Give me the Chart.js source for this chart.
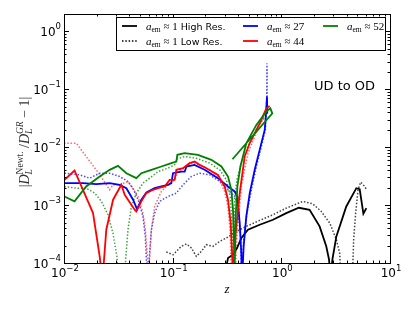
<!DOCTYPE html>
<html>
<head>
<meta charset="utf-8">
<script src="https://cdn.jsdelivr.net/npm/chart.js@4.4.1/dist/chart.umd.min.js"></script>
<style>
  html, body { margin: 0; padding: 0; background: #fff; }
</style>
</head>
<body>
<canvas id="chart" width="415" height="312"></canvas>
<script>
// Axis ticks (decades)
const xTicks = [0.01, 0.1, 1, 10];
const yTicks = [1e-4, 1e-3, 1e-2, 1e-1, 1];

// a_em ~ 1, high resolution (black solid)
const hiResZ = [0.295, 0.323, 0.359, 0.391, 0.429, 0.493, 0.632, 0.838, 1.11, 1.45, 1.82, 2.25, 2.59, 2.75, 2.82, 2.95, 3.21, 3.96, 4.90, 5.26, 5.69, 6.06];
const hiResD = [5e-5, 1.22e-4, 1.39e-4, 1.81e-4, 2.70e-4, 3.76e-4, 4.58e-4, 5.58e-4, 7.28e-4, 9.0e-4, 8.3e-4, 4.29e-4, 1.94e-4, 1.14e-4, 5e-5, 1.14e-4, 2.88e-4, 9.48e-4, 1.96e-3, 1.89e-3, 7.09e-4, 8.87e-4];

// a_em ~ 1, low resolution (black dotted)
const loResZ = [0.0874, 0.101, 0.120, 0.134, 0.149, 0.165, 0.184, 0.204, 0.235, 0.271, 0.323, 0.386, 0.476, 0.632, 0.838, 1.11, 1.58, 1.95, 2.33, 2.79, 3.21, 3.44, 3.55, 4.50, 4.63, 4.83, 5.08, 5.37, 5.85, 6.14];
const loResD = [1.55e-4, 1.39e-4, 1.94e-4, 2.13e-4, 1.81e-4, 1.30e-4, 1.59e-4, 2.07e-4, 1.94e-4, 2.36e-4, 2.81e-4, 3.52e-4, 4.29e-4, 5.44e-4, 6.81e-4, 8.87e-4, 1.16e-3, 1.05e-3, 7.78e-4, 4.9e-4, 2.53e-4, 1.49e-4, 5e-5, 5e-5, 2.53e-4, 7.28e-4, 1.84e-3, 2.49e-3, 2.10e-3, 1.79e-3];

// a_em ~ 27 (blue)
const a27Z = [0.0101, 0.0150, 0.0198, 0.0263, 0.0325, 0.0375, 0.0432, 0.0470, 0.0515, 0.0573, 0.0682, 0.0787, 0.0906, 0.0972, 0.1007, 0.120, 0.129, 0.134, 0.159, 0.197, 0.261, 0.323, 0.372, 0.394, 0.414, 0.428, 0.435, 0.450, 0.476, 0.512, 0.569, 0.632, 0.703, 0.720, 0.738, 0.742];
const a27D = [2.4e-3, 2.4e-3, 2.3e-3, 2.4e-3, 2.24e-3, 1.96e-3, 1.24e-3, 8.5e-4, 1.24e-3, 1.65e-3, 1.96e-3, 2.10e-3, 2.24e-3, 2.4e-3, 3.56e-3, 3.80e-3, 3.80e-3, 4.64e-3, 4.96e-3, 4.07e-3, 2.92e-3, 2.10e-3, 1.72e-3, 1.41e-3, 4.9e-4, 1.49e-4, 5e-5, 1.94e-4, 6.38e-4, 1.61e-3, 4.07e-3, 9.0e-3, 0.0199, 0.034, 0.075, 0.038];
const a27LowZ = [0.0101, 0.0139, 0.0172, 0.0213, 0.0263, 0.0325, 0.0388, 0.0432, 0.0480, 0.0533, 0.0560, 0.0573, 0.0584, 0.0614, 0.0637, 0.0682, 0.0759, 0.0906, 0.108, 0.1245, 0.1485, 0.177, 0.219, 0.271, 0.323, 0.372, 0.399, 0.420, 0.432, 0.450, 0.483, 0.530, 0.589, 0.655, 0.713, 0.733, 0.738, 0.741];
const a27LowD = [3.56e-3, 3.33e-3, 2.92e-3, 3.56e-3, 3.56e-3, 3.12e-3, 2.56e-3, 1.96e-3, 1.24e-3, 6.38e-4, 2.88e-4, 1.14e-4, 5e-5, 1.49e-4, 3.76e-4, 7.28e-4, 1.16e-3, 1.41e-3, 1.61e-3, 2.24e-3, 3.12e-3, 3.56e-3, 3.33e-3, 2.56e-3, 1.84e-3, 1.41e-3, 9.48e-4, 3.29e-4, 5e-5, 2.53e-4, 7.28e-4, 1.84e-3, 4.64e-3, 0.0103, 0.0199, 0.0655, 0.281, 0.044];

// a_em ~ 44 (red)
const a44Z = [0.0101, 0.0125, 0.0185, 0.0213, 0.0226, 0.0245, 0.0283, 0.0337, 0.0362, 0.0447, 0.0463, 0.0515, 0.0572, 0.0659, 0.0733, 0.0844, 0.0938, 0.1042, 0.1081, 0.1245, 0.1432, 0.1592, 0.177, 0.197, 0.261, 0.301, 0.323, 0.342, 0.352, 0.360, 0.366, 0.380, 0.414, 0.460, 0.511, 0.632, 0.728, 0.781];
const a44D = [2.73e-3, 3.96e-3, 7.28e-4, 1.30e-4, 5e-5, 3.76e-4, 1.24e-3, 2.24e-3, 1.51e-3, 8.31e-4, 7.78e-4, 1.16e-3, 1.61e-3, 1.84e-3, 1.96e-3, 2.10e-3, 2.73e-3, 2.73e-3, 4.07e-3, 4.35e-3, 5.30e-3, 5.66e-3, 4.96e-3, 4.5e-3, 3.33e-3, 2.10e-3, 1.24e-3, 4.9e-4, 1.49e-4, 5e-5, 5e-5, 3.29e-4, 1.61e-3, 6.9e-3, 0.0117, 0.0259, 0.047, 0.0516];
const a44LowZ = [0.0100, 0.0130, 0.0160, 0.0198, 0.0229, 0.0263, 0.0282, 0.0325, 0.0388, 0.0480, 0.0533, 0.0560, 0.0585, 0.0597, 0.0637, 0.0682, 0.0787, 0.0906, 0.1043, 0.1119, 0.1289, 0.1485, 0.177, 0.219, 0.261, 0.301, 0.323, 0.339, 0.347, 0.375, 0.391, 0.4285, 0.493, 0.610, 0.728];
const a44LowD = [0.0117, 0.0117, 6.9e-3, 4.07e-3, 2.73e-3, 1.84e-3, 2.24e-3, 2.24e-3, 2.56e-3, 1.41e-3, 7.28e-4, 3.76e-4, 1.30e-4, 5e-5, 3.76e-4, 9.48e-4, 1.72e-3, 2.24e-3, 2.73e-3, 3.80e-3, 4.35e-3, 5.30e-3, 4.96e-3, 4.07e-3, 3.12e-3, 1.72e-3, 9.48e-4, 3.29e-4, 5e-5, 5e-5, 3.29e-4, 2.10e-3, 7.88e-3, 0.0213, 0.0412];

// a_em ~ 52 (green)
const a52Z = [0.0101, 0.0125, 0.0160, 0.0213, 0.0263, 0.0314, 0.0375, 0.0463, 0.0515, 0.0637, 0.0787, 0.0972, 0.1081, 0.1104, 0.1289, 0.171, 0.227, 0.281, 0.323, 0.347, 0.359, 0.367, 0.370, 0.380, 0.394, 0.420, 0.476, 0.589, 0.728, 0.792, 0.826, 0.355];
const a52D = [1.41e-3, 1.16e-3, 2.10e-3, 3.12e-3, 4.07e-3, 4.77e-3, 3.56e-3, 2.92e-3, 3.56e-3, 4.07e-3, 4.64e-3, 5.30e-3, 5.66e-3, 7.38e-3, 7.88e-3, 7.38e-3, 6.05e-3, 4.64e-3, 3.12e-3, 1.84e-3, 8.31e-4, 2.21e-4, 5e-5, 6.38e-4, 2.10e-3, 4.64e-3, 0.0117, 0.0243, 0.0412, 0.047, 0.0385, 6.2e-3];
const a52LowZ = [0.0101, 0.0130, 0.0160, 0.0192, 0.0221, 0.0254, 0.0282, 0.0307, 0.0315, 0.0360, 0.0369, 0.0388, 0.0417, 0.0463, 0.0533, 0.0614, 0.0733, 0.0906, 0.1043, 0.1081, 0.1289, 0.165, 0.219, 0.271, 0.312, 0.339, 0.352, 0.360, 0.372, 0.390, 0.4285, 0.493, 0.610, 0.728];
const a52LowD = [2.10e-3, 1.96e-3, 1.96e-3, 1.61e-3, 1.16e-3, 6.81e-4, 3.29e-4, 1.30e-4, 5e-5, 5e-5, 1.14e-4, 3.76e-4, 9.48e-4, 1.61e-3, 2.4e-3, 2.92e-3, 3.80e-3, 4.35e-3, 4.96e-3, 6.21e-3, 6.9e-3, 6.46e-3, 5.30e-3, 4.07e-3, 2.73e-3, 1.41e-3, 4.29e-4, 5e-5, 1.24e-3, 2.73e-3, 5.30e-3, 0.0103, 0.0227, 0.036];

const pts = (zs, ds) => zs.map((z, i) => ({ x: z, y: ds[i] }));

function line(data, color, dotted) {
  return {
    data,
    showLine: true,
    borderColor: color,
    borderWidth: dotted ? 1.5 : 1.8,
    borderDash: dotted ? [1.5, 1.8] : [],
    pointRadius: 0,
    fill: false,
    clip: 0,
  };
}

// draw a list of text runs: {t, f, dy, stay}
function drawRuns(ctx, parts, x, y) {
  for (const p of parts) {
    ctx.font = p.f;
    ctx.fillText(p.t, x, y + (p.dy || 0));
    if (!p.stay) x += ctx.measureText(p.t).width;
  }
  return x;
}
function runsWidth(ctx, parts) {
  let w = 0;
  for (const p of parts) {
    ctx.font = p.f;
    if (!p.stay) w += ctx.measureText(p.t).width;
  }
  return w;
}

const SANS = '"DejaVu Sans", sans-serif';
const SERIF = '"Liberation Serif", serif';

const powParts = (v) => {
  const e = Math.round(Math.log10(v));
  return [
    { t: '10', f: '12px ' + SANS },
    { t: e < 0 ? '\u2212' + (-e) : String(e), f: '8.5px ' + SANS, dy: -6.5 },
  ];
};

const decor = {
  id: 'decor',
  afterDraw(chart) {
    const { ctx, chartArea: a, scales: { x, y } } = chart;
    ctx.save();
    ctx.strokeStyle = '#000';
    ctx.fillStyle = '#000';
    ctx.lineWidth = 1;

    // tick marks, inside, all four sides
    ctx.beginPath();
    for (let i = 0; i < xTicks.length; i++) {
      for (let m = 1; m < 10; m++) {
        const v = xTicks[i] * m;
        if (v > x.max * 1.0001) break;
        const px = Math.round(x.getPixelForValue(v)) + 0.5;
        const len = m === 1 ? 5 : 2.5;
        ctx.moveTo(px, a.bottom); ctx.lineTo(px, a.bottom - len);
        ctx.moveTo(px, a.top); ctx.lineTo(px, a.top + len);
      }
    }
    for (let i = 0; i < yTicks.length; i++) {
      for (let m = 1; m < 10; m++) {
        const v = yTicks[i] * m;
        if (v > y.max) break;
        const py = Math.round(y.getPixelForValue(v)) + 0.5;
        const len = m === 1 ? 5 : 2.5;
        ctx.moveTo(a.left, py); ctx.lineTo(a.left + len, py);
        ctx.moveTo(a.right, py); ctx.lineTo(a.right - len, py);
      }
    }
    ctx.stroke();

    // frame
    ctx.strokeRect(Math.round(a.left) + 0.5, Math.round(a.top) + 0.5,
      Math.round(a.right - a.left), Math.round(a.bottom - a.top));

    // tick labels
    ctx.textBaseline = 'alphabetic';
    ctx.textAlign = 'left';
    for (const v of xTicks) {
      const parts = powParts(v);
      const w = runsWidth(ctx, parts);
      drawRuns(ctx, parts, x.getPixelForValue(v) - w / 2 + 1, a.bottom + 14);
    }
    for (const v of yTicks) {
      const parts = powParts(v);
      const w = runsWidth(ctx, parts);
      drawRuns(ctx, parts, a.left - 3 - w, y.getPixelForValue(v) + 4.5);
    }

    // axis titles
    ctx.font = 'italic 13px ' + SERIF;
    ctx.textAlign = 'center';
    ctx.fillText('z', (a.left + a.right) / 2, 293);
    ctx.textAlign = 'left';

    const main = '14px ' + SERIF, it = 'italic 14px ' + SERIF;
    const sc = '9.5px ' + SERIF, scIt = 'italic 9.5px ' + SERIF;
    const ylab = [
      { t: '|', f: main },
      { t: 'D', f: it },
      { t: 'L', f: scIt, dy: 3, stay: true },
      { t: 'Newt.', f: sc, dy: -6 },
      { t: ' /', f: main },
      { t: 'D', f: it },
      { t: 'L', f: scIt, dy: 3, stay: true },
      { t: 'GR', f: scIt, dy: -6 },
      { t: ' \u2212 ', f: main },
      { t: '1', f: main },
      { t: '|', f: main },
    ];
    ctx.save();
    ctx.translate(29, 142);
    ctx.rotate(-Math.PI / 2);
    ctx.fillStyle = '#333';
    drawRuns(ctx, ylab, -runsWidth(ctx, ylab) / 2, 0);
    ctx.restore();

    // annotation
    ctx.font = '13px ' + SANS;
    ctx.fillText('UD to OD', 314, 90);

    // legend
    ctx.fillStyle = '#fff';
    ctx.fillRect(116.5, 17.5, 269, 33);
    ctx.strokeStyle = '#000';
    ctx.strokeRect(116.5, 17.5, 269, 33);
    const aem = (rest) => [
      { t: 'a', f: 'italic 11px ' + SERIF },
      { t: 'em', f: '7.5px ' + SERIF, dy: 2.5 },
      { t: ' \u2248 ' + rest, f: '11px ' + SERIF },
    ];
    const items = [
      { x: 122, y: 26, c: '#000', d: false, parts: aem('1').concat([{ t: ' High Res.', f: '9.5px ' + SANS }]) },
      { x: 122, y: 41, c: '#000', d: true, parts: aem('1').concat([{ t: ' Low Res.', f: '9.5px ' + SANS }]) },
      { x: 243, y: 26, c: '#0000ff', d: false, parts: aem('27') },
      { x: 243, y: 41, c: '#ff0000', d: false, parts: aem('44') },
      { x: 323, y: 26, c: '#008000', d: false, parts: aem('52') },
    ];
    for (const it2 of items) {
      ctx.beginPath();
      ctx.strokeStyle = it2.c;
      ctx.lineWidth = it2.d ? 1.5 : 1.8;
      ctx.setLineDash(it2.d ? [1.5, 1.8] : []);
      ctx.moveTo(it2.x, it2.y);
      ctx.lineTo(it2.x + 15, it2.y);
      ctx.stroke();
      ctx.setLineDash([]);
      ctx.fillStyle = '#000';
      drawRuns(ctx, it2.parts, it2.x + 24, it2.y + 3.5);
    }
    ctx.restore();
  },
};

new Chart(document.getElementById('chart').getContext('2d'), {
  type: 'scatter',
  data: {
    datasets: [
      line(pts(a52Z, a52D), '#008000', false),
      line(pts(a44Z, a44D), '#ff0000', false),
      line(pts(a27Z, a27D), '#0000ff', false),
      line(pts(hiResZ, hiResD), '#000000', false),
      line(pts(a52LowZ, a52LowD), 'rgba(0,128,0,0.75)', true),
      line(pts(a44LowZ, a44LowD), 'rgba(255,0,0,0.6)', true),
      line(pts(a27LowZ, a27LowD), 'rgba(0,0,255,0.7)', true),
      line(pts(loResZ, loResD), 'rgba(0,0,0,0.75)', true),
    ],
  },
  options: {
    responsive: false,
    animation: false,
    devicePixelRatio: 1,
    layout: { padding: { left: 64, right: 25, top: 14, bottom: 49 } },
    scales: {
      x: { type: 'logarithmic', min: 0.01, max: 10, display: false },
      y: { type: 'logarithmic', min: 1e-4, max: 2, display: false },
    },
    plugins: { legend: { display: false }, tooltip: { enabled: false } },
  },
  plugins: [decor],
});
</script>
</body>
</html>
